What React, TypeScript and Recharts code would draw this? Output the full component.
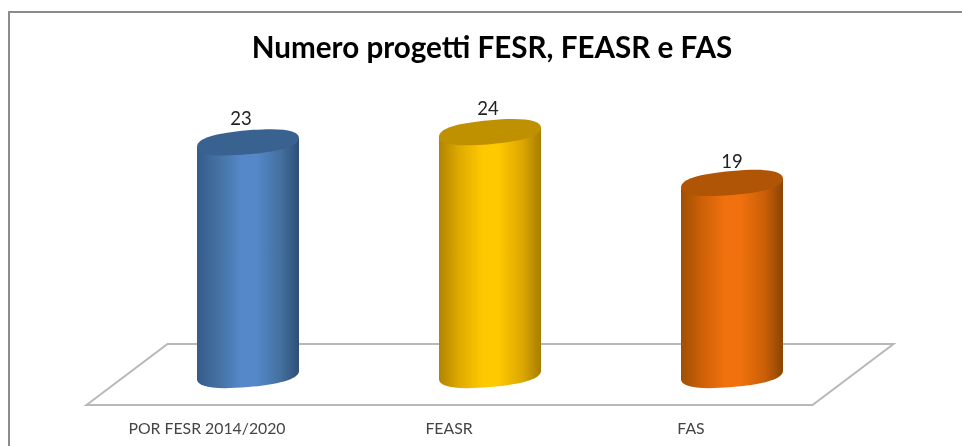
import React from "react";
import { BarChart, Bar, XAxis, YAxis, Cell, LabelList, ReferenceArea } from "recharts";

const categories = ["POR FESR 2014/2020", "FEASR", "FAS"];
const projectCounts = [23, 24, 19];
const bodyEdgeLeft = ["#335c8b", "#b08500", "#a04f03"];
const bodyMidLeft = ["#44709f", "#e0aa00", "#cc6008"];
const bodyCenter = ["#5488c9", "#ffc900", "#f0710d"];
const bodyMidRight = ["#44709f", "#dca700", "#cb5f07"];
const bodyEdgeRight = ["#2d4f77", "#a67d00", "#8a4502"];
const capColors = ["#3a6291", "#bf9000", "#b05505"];
const title = "Numero progetti FESR, FEASR e FAS";

const data = categories.map((name, i) => ({ name, value: projectCounts[i], idx: i }));

const W = 962;
const H = 446;
const SHEAR = -0.085;
const KAPPA = 0.66;

function Cylinder(props: any) {
  const { x, y, width, height, idx } = props;
  const rx = width / 2;
  const ry = 12;
  const cx = x + rx;
  const kx = rx * KAPPA;
  const ky = ry * KAPPA;
  const lowerArc = (b: number) =>
    `C${-rx},${b + ky} ${-kx},${b + ry} 0,${b + ry} C${kx},${b + ry} ${rx},${b + ky} ${rx},${b}`;
  const upperArc = `C${rx},${-ky} ${kx},${-ry} 0,${-ry} C${-kx},${-ry} ${-rx},${-ky} ${-rx},0`;
  return (
    <g transform={`translate(${cx},${y}) matrix(1,${SHEAR},0,1,0,0)`}>
      <path d={`M${-rx},0 L${-rx},${height - 1} ${lowerArc(height - 1)} L${rx},0 Z`} fill={`url(#body${idx})`} />
      <path d={`M${-rx},0 ${lowerArc(0)} ${upperArc} Z`} fill={capColors[idx]} />
    </g>
  );
}

function Floor(props: any) {
  const { x, y, width, height } = props;
  const s = 40.5;
  return (
    <polygon
      points={`${x - s},${y + height} ${x + s},${y} ${x + width + s},${y} ${x + width - s},${y + height}`}
      fill="#ffffff"
      stroke="#b8b8b8"
      strokeWidth={2}
    />
  );
}

function CategoryTick(props: any) {
  const { x, y, payload } = props;
  return (
    <text x={x - 41} y={y + 14} textAnchor="middle" fontFamily="Lato, sans-serif" fontSize={15.8} fill="#444444">
      {payload.value}
    </text>
  );
}

function ValueLabel(props: any) {
  const { x, y, width, value, index } = props;
  const dx = index === 0 ? -7 : index === 1 ? -2 : 0;
  const dy = index === 2 ? -15 : -17;
  return (
    <text x={x + width / 2 + dx} y={y + dy} textAnchor="middle" fontFamily="Lato, sans-serif" fontSize={18.5} fill="#222222">
      {value}
    </text>
  );
}

export default function App() {
  return (
    <div style={{ position: "absolute", left: 0, top: 0, width: W, height: H, background: "#fff", overflow: "hidden" }}>
      <div style={{ filter: "blur(0.5px)" }}>
        <BarChart
          width={W}
          height={H}
          data={data}
          margin={{ left: 127, right: 109, top: 122, bottom: 30 }}
          barCategoryGap={70}
        >
          <defs>
            {categories.map((_, i) => (
              <linearGradient key={i} id={`body${i}`} x1="0" y1="0" x2="1" y2="0">
                <stop offset="0" stopColor={bodyEdgeLeft[i]} />
                <stop offset="0.2" stopColor={bodyMidLeft[i]} />
                <stop offset="0.43" stopColor={bodyCenter[i]} />
                <stop offset="0.58" stopColor={bodyCenter[i]} />
                <stop offset="0.82" stopColor={bodyMidRight[i]} />
                <stop offset="1" stopColor={bodyEdgeRight[i]} />
              </linearGradient>
            ))}
          </defs>
          <rect x={9} y={12} width={1000} height={500} fill="none" stroke="#8c8c8c" strokeWidth={2} />
          <text x={492} y={58} textAnchor="middle" fontFamily="Lato, sans-serif" fontWeight={700} fontSize={29.6} fill="#000000">
            {title}
          </text>
          <XAxis dataKey="name" axisLine={false} tickLine={false} height={40} tick={<CategoryTick />} tickMargin={38} interval={0} />
          <YAxis hide domain={[0, 25]} />
          <ReferenceArea y1={-2.85} y2={3.15} ifOverflow="visible" shape={<Floor />} />
          <Bar dataKey="value" barSize={102} isAnimationActive={false} shape={<Cylinder />}>
            {data.map((d) => (
              <Cell key={d.name} />
            ))}
            <LabelList dataKey="value" content={<ValueLabel />} />
          </Bar>
        </BarChart>
      </div>
    </div>
  );
}
